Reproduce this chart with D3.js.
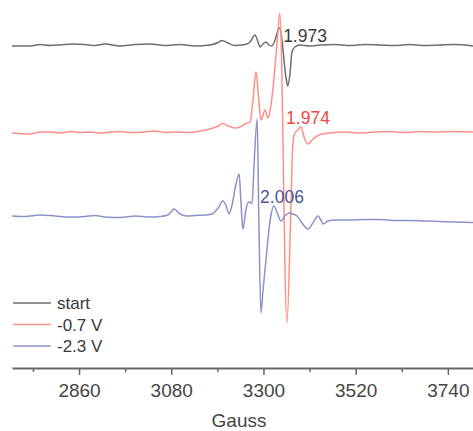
<!DOCTYPE html>
<html>
<head>
<meta charset="utf-8">
<script src="https://cdn.jsdelivr.net/npm/d3@7"></script>
<style>
  body { margin: 0; background: #fff; }
  svg { display: block; font-family: "Liberation Sans", Arial, sans-serif; }
</style>
</head>
<body>
<div id="epr"></div>
<script>
// EPR spectra, field in Gauss, signal in arbitrary units (relative to baseline)
var startField = [2700, 2743, 2767, 2791, 2815, 2843, 2874, 2898, 2922, 2958, 2994, 3029, 3065, 3101, 3137, 3172,
    3192, 3201, 3215, 3232, 3256, 3268, 3280, 3287, 3292, 3299, 3306, 3313, 3320, 3327, 3335, 3339,
    3354, 3358, 3363, 3368, 3375, 3387, 3411, 3435, 3471, 3506, 3542, 3578, 3614, 3649, 3685, 3721, 3757, 3800];
var startSignal = [-0.01, -0.01, 0.005, -0.005, 0, 0.01, 0.005, -0.005, 0.01, -0.01, 0.005, 0.01, -0.005, 0.005, -0.01, 0,
    0.025, 0.045, 0.02, -0.005, 0.005, 0.03, 0.10, 0.03, -0.02, 0.01, 0.03, 0, -0.01, 0.04, 0.15, 0.17,
    -0.33, -0.41, -0.30, -0.07, -0.02, 0, -0.01, 0, 0.005, -0.005, 0.005, 0, -0.005, 0.005, -0.005, 0, 0.005, -0.01];

var redField = [2700, 2719, 2743, 2767, 2791, 2815, 2839, 2862, 2886, 2910, 2934, 2958, 2982, 3017, 3041, 3065, 3089,
    3125, 3149, 3172, 3192, 3203, 3215, 3232, 3244, 3256, 3268, 3275, 3282, 3289, 3294, 3304, 3311, 3318,
    3327, 3335, 3339, 3356, 3366, 3370, 3375, 3382, 3389, 3397, 3406, 3416, 3428, 3440, 3459, 3494, 3530,
    3566, 3602, 3638, 3673, 3709, 3745, 3800];
var redSignal = [-0.01, -0.015, -0.02, 0, 0, -0.01, 0.005, -0.005, 0, -0.01, 0, 0.005, -0.005, 0, 0.01, -0.005, 0,
    -0.005, 0.01, 0.03, 0.06, 0.085, 0.06, 0.04, 0.05, 0.08, 0.10, 0.32, 0.60, 0.32, 0.12, 0.22, 0.14, 0.27,
    0.62, 1.02, 1.19, -1.91, -0.68, -0.13, -0.01, 0.02, 0.05, -0.05, -0.12, -0.08, -0.04, -0.02, -0.01, 0, -0.01,
    0, 0.005, -0.005, 0.005, 0, 0.005, 0];

var blueField = [2700, 2731, 2767, 2803, 2839, 2874, 2898, 2922, 2958, 2994, 3029, 3053, 3072, 3087, 3101, 3118,
    3137, 3161, 3177, 3192, 3203, 3211, 3218, 3225, 3234, 3242, 3246, 3251, 3258, 3265, 3273, 3277, 3285,
    3289, 3294, 3299, 3306, 3313, 3318, 3325, 3332, 3342, 3351, 3361, 3370, 3380, 3392, 3406, 3418, 3430,
    3437, 3442, 3454, 3471, 3506, 3542, 3578, 3614, 3649, 3685, 3721, 3757, 3800];
var blueSignal = [0, -0.005, 0.01, 0, -0.01, -0.005, 0.005, -0.01, -0.015, 0, -0.01, -0.005, 0.01, 0.07, 0.02, 0,
    0.005, 0.01, 0.02, 0.08, 0.15, 0.10, 0.02, 0.11, 0.31, 0.42, 0.16, -0.13, 0.06, 0.14, 0.13, 0.46, 0.97,
    -0.04, -0.97, -0.74, -0.44, -0.14, 0.01, 0.10, 0.04, -0.05, 0, 0.03, 0.02, 0, -0.07, -0.13, -0.07, 0,
    -0.04, -0.08, -0.05, -0.04, -0.04, -0.035, -0.035, -0.045, -0.045, -0.05, -0.055, -0.06, -0.065];

var seriesNames = ["start", "-0.7 V", "-2.3 V"];
var offsets = [3.23, 2.36, 1.52];
var gLabels = ["1.973", "1.974", "2.006"];
var gLabelField = [3347, 3354, 3292];
var gLabelLevel = [0.03, 0.08, 0.13];

var majorTicks = [2860, 3080, 3300, 3520, 3740];
var minorTicks = [2750, 2970, 3190, 3410, 3630];

var lineColors = ["#6e6e6e", "#ff8e86", "#8a92c8"];
var labelColors = ["#3a3a3a", "#f0483e", "#4b569e"];

var width = 473;
var height = 431;

var x = d3.scaleLinear().domain([2700, 3800]).range([12, 473]);
var y = d3.scaleLinear().domain([0, 3.68]).range([368, 0]);

var canvas = d3.select("#epr").append("svg")
    .attr("width", width)
    .attr("height", height);

var series = [
    { field: startField, signal: startSignal },
    { field: redField, signal: redSignal },
    { field: blueField, signal: blueSignal }
];

// draw the traces, each one shifted by its offset
series.forEach(function (s, k) {
    var pts = s.field.map(function (f, i) { return [f, s.signal[i] + offsets[k]]; });
    var line = d3.line()
        .x(function (d) { return x(d[0]); })
        .y(function (d) { return y(d[1]); })
        .curve(d3.curveMonotoneX);
    canvas.append("path")
        .attr("d", line(pts))
        .attr("fill", "none")
        .attr("stroke", lineColors[k])
        .attr("stroke-width", 1.5)
        .attr("stroke-linejoin", "round");
});

// g-value labels
canvas.selectAll("text.gval")
    .data(gLabels)
    .enter()
    .append("text")
    .attr("class", "gval")
    .text(function (d) { return d; })
    .attr("x", function (d, i) { return x(gLabelField[i]); })
    .attr("y", function (d, i) { return y(offsets[i] + gLabelLevel[i]); })
    .attr("font-size", "17.5px")
    .attr("fill", function (d, i) { return labelColors[i]; });

// x axis
var axis = canvas.append("g")
    .attr("transform", "translate(0," + y(0) + ")")
    .call(d3.axisBottom(x).tickValues(majorTicks).tickFormat(d3.format("d"))
        .tickSizeInner(7).tickSizeOuter(0).tickPadding(9));
axis.select(".domain").attr("stroke", "#666").attr("stroke-width", 2);
axis.selectAll(".tick line").attr("stroke", "#666").attr("stroke-width", 1.5);
axis.selectAll(".tick text")
    .attr("font-size", "19px")
    .attr("font-family", "Liberation Sans, Arial, sans-serif")
    .attr("fill", "#454545");

var minor = canvas.append("g")
    .attr("transform", "translate(0," + y(0) + ")")
    .call(d3.axisBottom(x).tickValues(minorTicks).tickSize(4).tickFormat(""));
minor.select(".domain").remove();
minor.selectAll(".tick line").attr("stroke", "#666").attr("stroke-width", 1.5);

canvas.append("text")
    .text("Gauss")
    .attr("x", 239)
    .attr("y", 427)
    .attr("text-anchor", "middle")
    .attr("font-size", "19px")
    .attr("fill", "#454545");

// legend
var legend = canvas.selectAll("g.leg")
    .data(seriesNames)
    .enter()
    .append("g")
    .attr("class", "leg")
    .attr("transform", function (d, i) { return "translate(13," + (303 + i * 21.5) + ")"; });
legend.append("line")
    .attr("x1", 0).attr("x2", 38)
    .attr("stroke", function (d, i) { return lineColors[i]; })
    .attr("stroke-width", 1.5);
legend.append("text")
    .text(function (d) { return d; })
    .attr("x", 44)
    .attr("y", 6)
    .attr("font-size", "17px")
    .attr("fill", "#3a3a3a");
</script>
</body>
</html>
